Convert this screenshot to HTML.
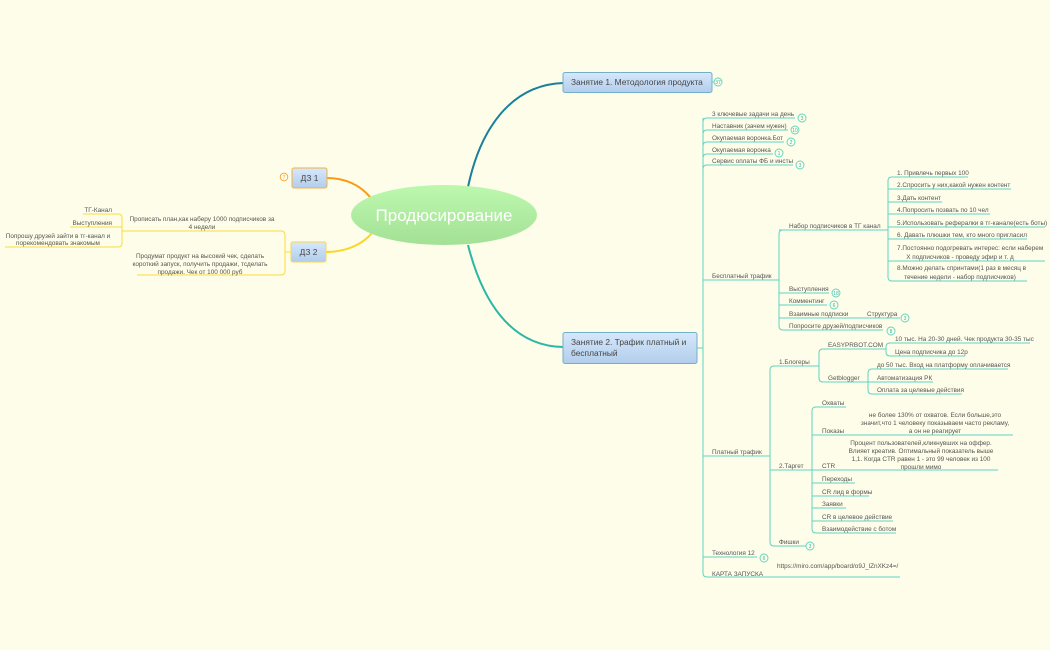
<!DOCTYPE html>
<html><head><meta charset="utf-8"><style>
html,body{margin:0;padding:0;background:#fdfde9;}
svg{display:block;font-family:"Liberation Sans","DejaVu Sans",sans-serif;}
.t{font-size:6.4px;fill:#555;}
.l{stroke:#5fd3c2;stroke-width:1;fill:none;}
.y{stroke:#fbdc3c;stroke-width:1;fill:none;}
.b circle{fill:#fdfde9;stroke:#5fd3c2;stroke-width:0.9;}
.b text{font-size:5px;fill:#3cb8a6;text-anchor:middle;}
</style></head><body>
<svg width="1050" height="650" viewBox="0 0 1050 650" xmlns="http://www.w3.org/2000/svg">
<defs>
<linearGradient id="g" x1="0" y1="0" x2="0" y2="1"><stop offset="0" stop-color="#bdf8ad"/><stop offset="1" stop-color="#a3e196"/></linearGradient>
<linearGradient id="bl" x1="0" y1="0" x2="0" y2="1"><stop offset="0" stop-color="#d6e8fb"/><stop offset="1" stop-color="#b2cdec"/></linearGradient>
</defs>
<rect width="1050" height="650" fill="#fdfde9"/>
<!-- main curves -->
<path d="M468,187 C480,130 510,85 563,83" stroke="#18809a" stroke-width="2" fill="none"/>
<path d="M468,245 C482,300 510,346 563,347" stroke="#2cb6a4" stroke-width="2" fill="none"/>
<path d="M370,197 C360,185 345,178 327,178" stroke="#f99a12" stroke-width="2" fill="none"/>
<path d="M372,233 C362,245 345,252 326,252" stroke="#fbd520" stroke-width="2" fill="none"/>
<ellipse cx="444" cy="215" rx="93" ry="30" fill="url(#g)"/>
<text x="444" y="221" font-size="17" fill="#fff" text-anchor="middle">Продюсирование</text>
<!-- nodes -->
<rect x="563" y="72.5" width="149" height="20" rx="2" fill="url(#bl)" stroke="#72b0c8"/>
<text x="571" y="85" font-size="8.4" fill="#444">Занятие 1. Методология продукта</text>
<line x1="712" y1="82" x2="714" y2="82" class="l"/>
<g class="b"><circle cx="718" cy="82" r="4"/><text x="718" y="84">37</text></g>
<rect x="563" y="332.5" width="134" height="31" rx="2" fill="url(#bl)" stroke="#72b0c8"/>
<text x="571" y="345" font-size="8.4" fill="#444">Занятие 2. Трафик платный и</text>
<text x="571" y="356" font-size="8.4" fill="#444">бесплатный</text>
<rect x="292" y="168" width="35" height="20" rx="2" fill="url(#bl)" stroke="#f3b04a"/>
<text x="309.5" y="181" font-size="8.4" fill="#444" text-anchor="middle">ДЗ 1</text>
<circle cx="284" cy="177" r="3.8" fill="#fdfde9" stroke="#f9a22a" stroke-width="0.9"/>
<text x="284" y="179" font-size="5" fill="#f9a22a" text-anchor="middle">7</text>
<rect x="291" y="242" width="35" height="20" rx="2" fill="url(#bl)" stroke="#f7d64a"/>
<text x="308.5" y="255" font-size="8.4" fill="#444" text-anchor="middle">ДЗ 2</text>

<!-- node2 trunk -->
<line x1="697" y1="348" x2="703" y2="348" class="l"/>
<path class="l" d="M703,122 Q703,118 707,118 H795 M703,134 Q703,130 707,130 H788 M703,146 Q703,142 707,142 H784 M703,158 Q703,154 707,154 H773 M703,169 Q703,165 707,165 H793 M703,118 V573 Q703,577 707,577 H900 M703,280 H779 M703,456 H770 M703,557 H757"/>
<text class="t" x="712" y="116">3 ключевые задачи на день</text>
<text class="t" x="712" y="128">Наставник (зачем нужен)</text>
<text class="t" x="712" y="140">Окупаемая воронка.Бот</text>
<text class="t" x="712" y="152">Окупаемая воронка</text>
<text class="t" x="712" y="163">Сервис оплаты ФБ и инсты</text>
<text class="t" x="712" y="278">Бесплатный трафик</text>
<text class="t" x="712" y="454">Платный трафик</text>
<text class="t" x="712" y="555">Технология 12</text>
<text class="t" x="712" y="576">КАРТА ЗАПУСКА</text>
<text class="t" x="777" y="568">https://miro.com/app/board/o9J_lZnXKz4=/</text>
<g class="b"><circle cx="802" cy="118" r="4"/><text x="802" y="120">3</text>
<circle cx="795" cy="130" r="4"/><text x="795" y="132">10</text>
<circle cx="791" cy="142" r="4"/><text x="791" y="144">2</text>
<circle cx="779" cy="153" r="4"/><text x="779" y="155">1</text>
<circle cx="800" cy="165" r="4"/><text x="800" y="167">3</text>
<circle cx="764" cy="558" r="4"/><text x="764" y="560">6</text></g>

<!-- Бесплатный трафик -->
<path class="l" d="M783,230 Q779,230 779,234 V326 Q779,330 783,330 H883 M779,280 V280 M779,293 H829 M779,305 H827 M779,318 H900 M779,230 H880"/>
<text class="t" x="789" y="228">Набор подписчиков в ТГ канал</text>
<text class="t" x="789" y="291">Выступления</text>
<text class="t" x="789" y="303">Комментинг</text>
<text class="t" x="789" y="316">Взаимные подписки</text>
<text class="t" x="867" y="316">Структура</text>
<text class="t" x="789" y="328">Попросите друзей/подписчиков</text>
<g class="b"><circle cx="836" cy="293" r="4"/><text x="836" y="295">18</text>
<circle cx="834" cy="305" r="4"/><text x="834" y="307">6</text>
<circle cx="905" cy="318" r="4"/><text x="905" y="320">3</text>
<circle cx="891" cy="331" r="4"/><text x="891" y="333">8</text></g>
<path class="l" d="M880,230 H888 M892,177 Q888,177 888,181 V277 Q888,281 892,281 H1027 M888,189 H1011 M888,202 H942 M888,214 H990 M888,227 H1045 M888,239 H1027 M888,261 H1045 M892,177 H968"/>
<text class="t" x="897" y="175">1. Привлечь первых 100</text>
<text class="t" x="897" y="187">2.Спросить у них,какой нужен контент</text>
<text class="t" x="897" y="200">3.Дать контент</text>
<text class="t" x="897" y="212">4.Попросить позвать по 10 чел</text>
<text class="t" x="897" y="225">5.Использовать рефералки в тг-канале(есть боты)</text>
<text class="t" x="897" y="237">6. Давать плюшки тем, кто много пригласил</text>
<text class="t" x="897" y="250">7.Постоянно подогревать интерес: если наберем</text>
<text class="t" x="960" y="259" text-anchor="middle">X подписчиков - проведу эфир и т. д</text>
<text class="t" x="897" y="270">8.Можно делать спринтами(1 раз в месяц в</text>
<text class="t" x="960" y="279" text-anchor="middle">течение недели - набор подписчиков)</text>

<!-- Платный трафик -->
<path class="l" d="M774,366 Q770,366 770,370 V542 Q770,546 774,546 H806 M770,456 V456 M770,470 H812 M774,366 H818"/>
<text class="t" x="779" y="364">1.Блогеры</text>
<text class="t" x="779" y="468">2.Таргет</text>
<text class="t" x="779" y="544">Фишки</text>
<g class="b"><circle cx="810" cy="546" r="4"/><text x="810" y="548">3</text></g>
<path class="l" d="M818,366 H819 M823,349 Q819,349 819,353 V378 Q819,382 823,382 H868 M823,349 H875 M875,349 H886 M890,343 Q886,343 886,347 V352 Q886,356 890,356 H965 M890,343 H1030 M868,382 V373 Q868,369 872,369 H1008 M868,382 H933 M868,382 V390 Q868,394 872,394 H962"/>
<text class="t" x="828" y="347">EASYPRBOT.COM</text>
<text class="t" x="828" y="380">Getblogger</text>
<text class="t" x="895" y="341">10 тыс. На 20-30 дней. Чек продукта 30-35 тыс</text>
<text class="t" x="895" y="354">Цена подписчика до 12р</text>
<text class="t" x="877" y="367">до 50 тыс. Вход на платформу оплачивается</text>
<text class="t" x="877" y="380">Автоматизация РК</text>
<text class="t" x="877" y="392">Оплата за целевые действия</text>
<path class="l" d="M816,407 Q812,407 812,411 V529 Q812,533 816,533 H896 M816,407 H846 M812,435 H1013 M812,470 H998 M812,483 H855 M812,496 H869 M812,508 H846 M812,521 H893"/>
<text class="t" x="822" y="405">Охваты</text>
<text class="t" x="822" y="433">Показы</text>
<text class="t" x="935" y="417" text-anchor="middle">не более 130% от охватов. Если больше,это</text>
<text class="t" x="935" y="425" text-anchor="middle">значит,что 1 человеку показываем часто рекламу,</text>
<text class="t" x="935" y="433" text-anchor="middle">а он не реагирует</text>
<text class="t" x="822" y="468">CTR</text>
<text class="t" x="921" y="445" text-anchor="middle">Процент пользователей,кликнувших на оффер.</text>
<text class="t" x="921" y="453" text-anchor="middle">Влияет креатив. Оптимальный показатель выше</text>
<text class="t" x="921" y="461" text-anchor="middle">1,1. Когда CTR равен 1 - это 99 человек из 100</text>
<text class="t" x="921" y="469" text-anchor="middle">прошли мимо</text>
<text class="t" x="822" y="481">Переходы</text>
<text class="t" x="822" y="494">CR лид в формы</text>
<text class="t" x="822" y="506">Заявки</text>
<text class="t" x="822" y="519">CR  в целевое действие</text>
<text class="t" x="822" y="531">Взаимодействие с ботом</text>

<!-- ДЗ 2 -->
<path class="y" d="M291,252 H285 M281,231 Q285,231 285,235 V271 Q285,275 281,275 H137 M281,231 H122 M118,214 Q122,214 122,218 V243 Q122,247 118,247 H5 M122,231 V231 M118,214 H83 M122,227 H70"/>
<text class="t" x="202" y="221" text-anchor="middle">Прописать план,как наберу 1000 подписчиков за</text>
<text class="t" x="202" y="229" text-anchor="middle">4 недели</text>
<text class="t" x="112" y="212" text-anchor="end">ТГ-Канал</text>
<text class="t" x="112" y="225" text-anchor="end">Выступления</text>
<text class="t" x="58" y="238" text-anchor="middle">Попрошу друзей зайти в тг-канал и</text>
<text class="t" x="58" y="245" text-anchor="middle">порекомендовать знакомым</text>
<text class="t" x="200" y="258" text-anchor="middle">Продумат продукт на высокий чек, сделать</text>
<text class="t" x="200" y="266" text-anchor="middle">короткий запуск, получить продажи, тсделать</text>
<text class="t" x="200" y="274" text-anchor="middle">продажи. Чек от 100 000 руб</text>
</svg>
</body></html>
